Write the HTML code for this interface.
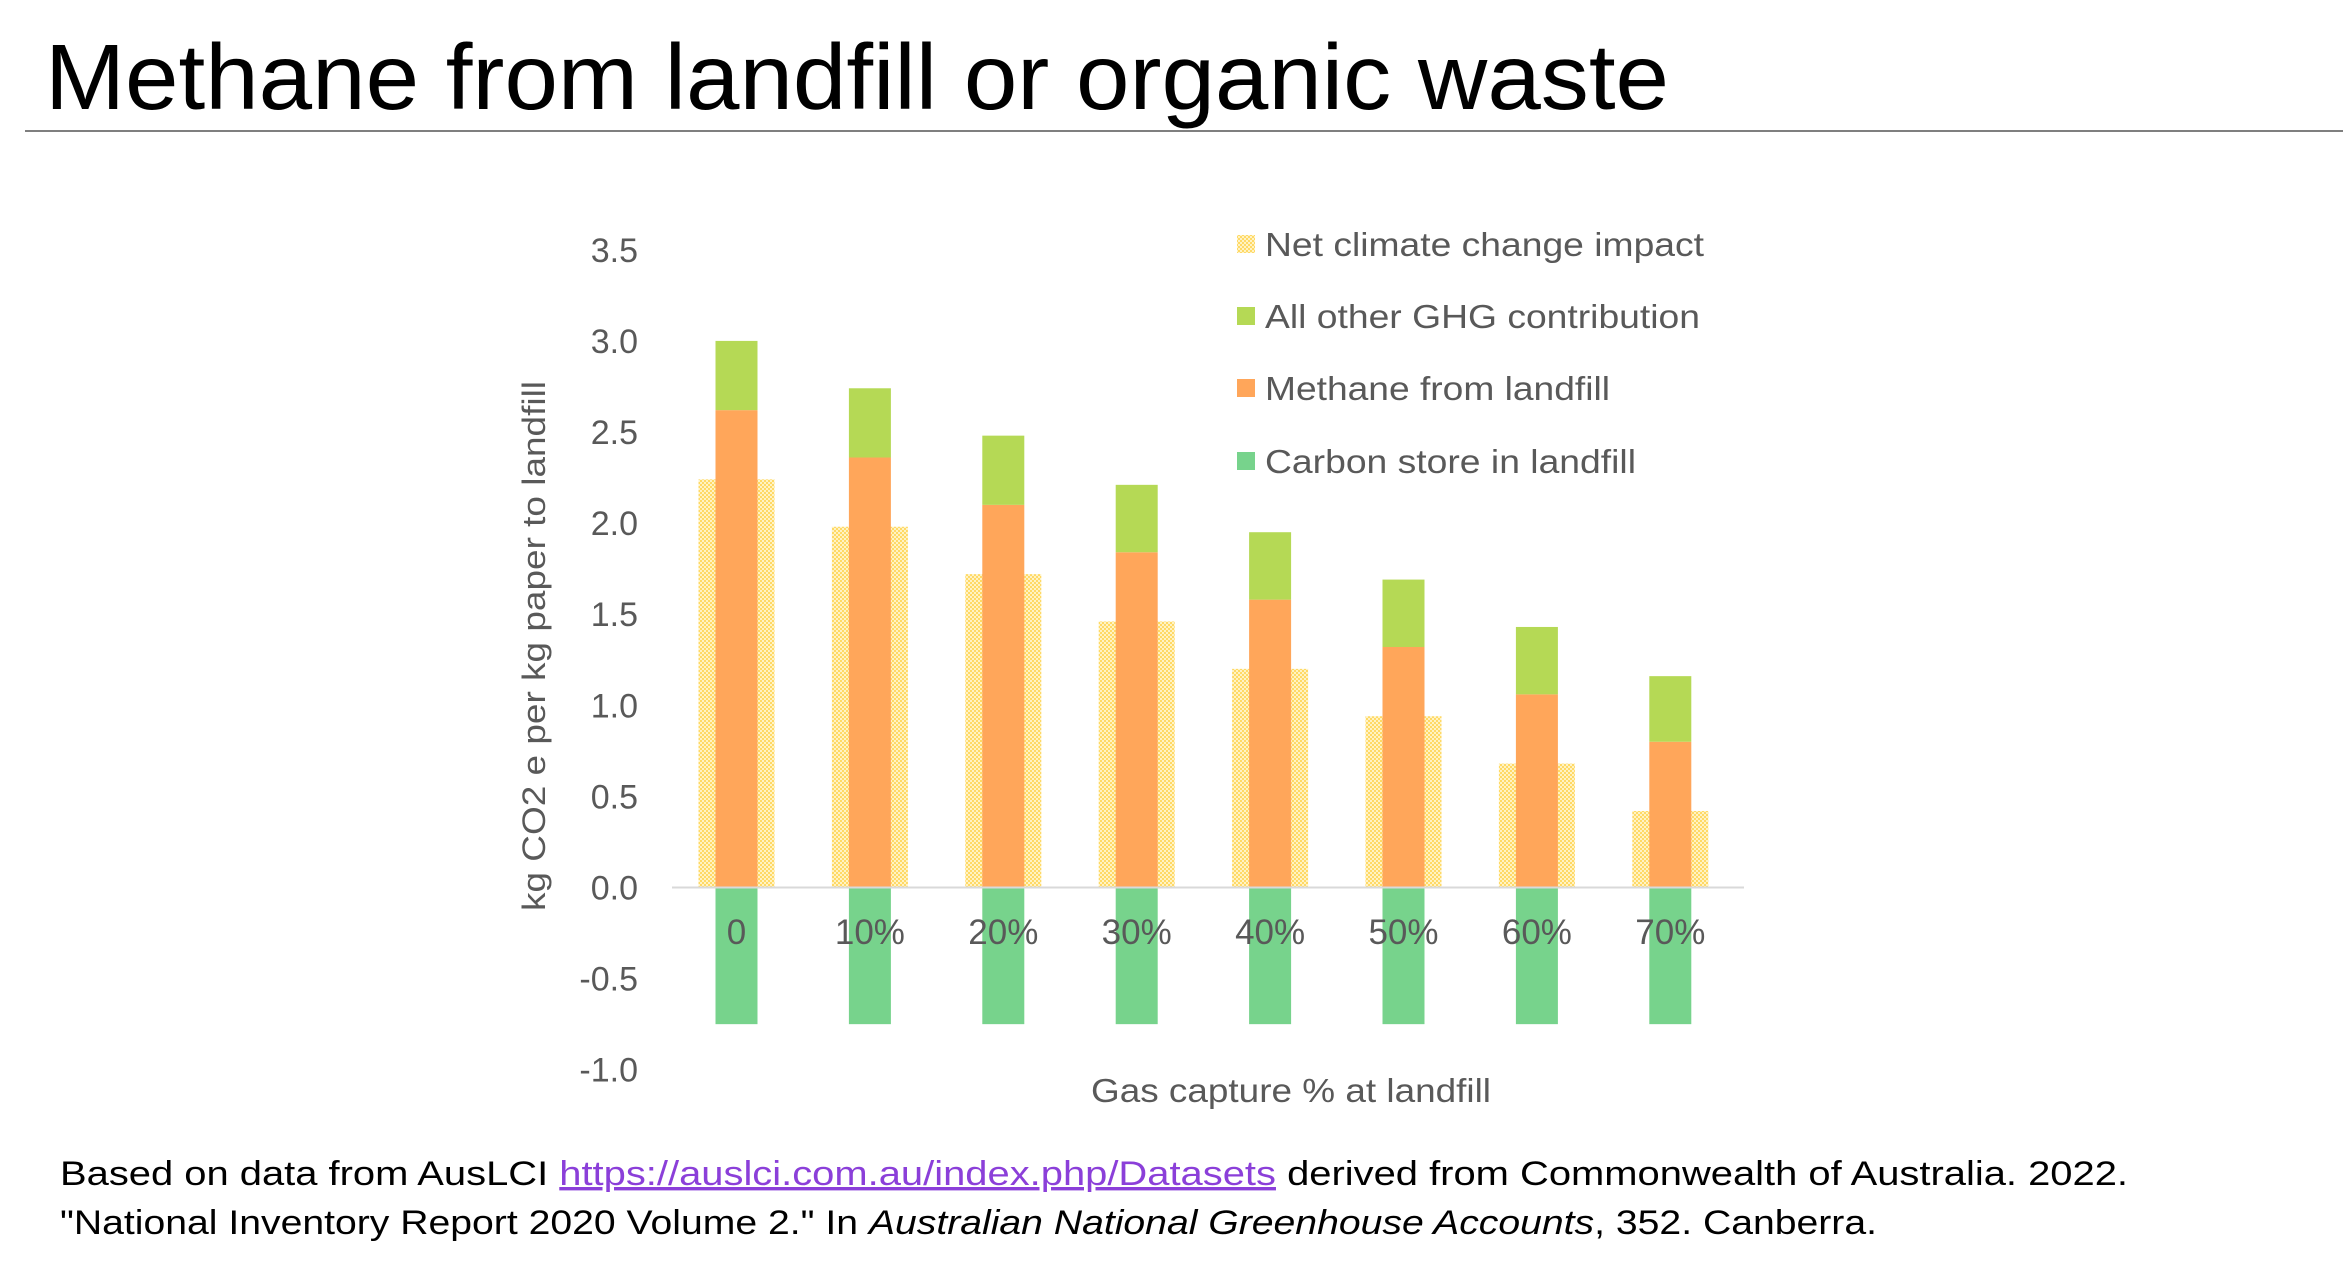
<!DOCTYPE html>
<html><head><meta charset="utf-8"><style>
html,body{margin:0;padding:0;background:#fff;}
body{width:2343px;height:1272px;overflow:hidden;position:relative;font-family:"Liberation Sans",sans-serif;}
svg{position:absolute;left:0;top:0;}
</style></head><body>
<svg id="chart" width="2343" height="1272" viewBox="0 0 2343 1272">
<defs>
<pattern id="dots" width="4" height="4" patternUnits="userSpaceOnUse">
<rect width="4" height="4" fill="#FFF3C4"/>
<rect width="2" height="2" fill="#FFD966"/>
<rect x="2" y="2" width="2" height="2" fill="#FFD966"/>
</pattern>
</defs>
<text x="45" y="109" font-size="93" fill="#000" textLength="1624" lengthAdjust="spacingAndGlyphs">Methane from landfill or organic waste</text>
<line x1="25" y1="131" x2="2343" y2="131" stroke="#7f7f7f" stroke-width="2"/>
<g id="plot"></g>
<text transform="translate(545,646) rotate(-90)" text-anchor="middle" font-size="32" fill="#595959" textLength="530" lengthAdjust="spacingAndGlyphs">kg CO2 e per kg paper to landfill</text>
<text x="1091" y="1102" font-size="33" fill="#595959" textLength="400" lengthAdjust="spacingAndGlyphs">Gas capture % at landfill</text>
<g>
<rect x="1237" y="235" width="18" height="18" fill="url(#dots)"/>
<text x="1265" y="256" font-size="33" fill="#595959" textLength="439" lengthAdjust="spacingAndGlyphs">Net climate change impact</text>
<rect x="1237" y="307" width="18" height="18" fill="#B5D955"/>
<text x="1265" y="328" font-size="33" fill="#595959" textLength="435" lengthAdjust="spacingAndGlyphs">All other GHG contribution</text>
<rect x="1237" y="379" width="18" height="18" fill="#FFA65A"/>
<text x="1265" y="400" font-size="33" fill="#595959" textLength="345" lengthAdjust="spacingAndGlyphs">Methane from landfill</text>
<rect x="1237" y="452" width="18" height="18" fill="#77D38C"/>
<text x="1265" y="473" font-size="33" fill="#595959" textLength="371" lengthAdjust="spacingAndGlyphs">Carbon store in landfill</text>
</g>
<text x="60" y="1185" font-size="34" fill="#000" textLength="2068" lengthAdjust="spacingAndGlyphs">Based on data from AusLCI  <tspan fill="#8B3FD9" text-decoration="underline">https://auslci.com.au/index.php/Datasets</tspan> derived from  Commonwealth of Australia. 2022.</text>
<text x="60" y="1234" font-size="34" fill="#000" textLength="1817" lengthAdjust="spacingAndGlyphs">"National Inventory Report 2020 Volume 2." In <tspan font-style="italic">Australian National Greenhouse Accounts</tspan>, 352. Canberra.</text>
</svg>
<script>
const categories = ["0","10%","20%","30%","40%","50%","60%","70%"];
const netImpact = [2.24,1.98,1.72,1.46,1.20,0.94,0.68,0.42];
const methane = [2.62,2.36,2.10,1.84,1.58,1.32,1.06,0.80];
const otherGhg = [0.38,0.38,0.38,0.37,0.37,0.37,0.37,0.36];
const carbonStore = [-0.75,-0.75,-0.75,-0.75,-0.75,-0.75,-0.75,-0.75];
const yTicks = [3.5,3.0,2.5,2.0,1.5,1.0,0.5,0.0,-0.5,-1.0];

const NS = "http://www.w3.org/2000/svg";
const g = document.getElementById("plot");
const y0 = 887.5, unit = 182.2, xLeft = 672, xRight = 1744;
const firstCenter = 736.5, step = 133.4;
const yScale = v => y0 - v * unit;
const xCenter = i => firstCenter + step * i;
function mk(tag, attrs){ const e = document.createElementNS(NS, tag); for (const k in attrs) e.setAttribute(k, attrs[k]); g.appendChild(e); return e; }

yTicks.forEach(t => {
  const e = mk("text", {x: 638, y: yScale(t) + 12, "text-anchor": "end", "font-size": 34, fill: "#595959"});
  e.textContent = t.toFixed(1);
  
  
});

categories.forEach((c, i) => {
  const cx = xCenter(i);
  const n = mk("rect", {x: cx - 38, y: Math.min(yScale(netImpact[i]), y0), width: 76, height: Math.abs(netImpact[i]) * unit, fill: "url(#dots)"});
  
  
  const m = mk("rect", {x: cx - 21, y: yScale(methane[i]), width: 42, height: methane[i] * unit, fill: "#FFA65A"});
  
  
  const o = mk("rect", {x: cx - 21, y: yScale(methane[i] + otherGhg[i]), width: 42, height: otherGhg[i] * unit, fill: "#B5D955"});
  
  
  const cs = mk("rect", {x: cx - 21, y: y0, width: 42, height: Math.abs(carbonStore[i]) * unit, fill: "#77D38C"});
  
  
});

const axis = mk("line", {x1: xLeft, y1: y0, x2: xRight, y2: y0, stroke: "#D9D9D9", "stroke-width": 2});



categories.forEach((c, i) => {
  const e = mk("text", {x: xCenter(i), y: 944, "text-anchor": "middle", "font-size": 35, fill: "#595959"});
  e.textContent = c;
  
  
});
</script>
</body></html>
